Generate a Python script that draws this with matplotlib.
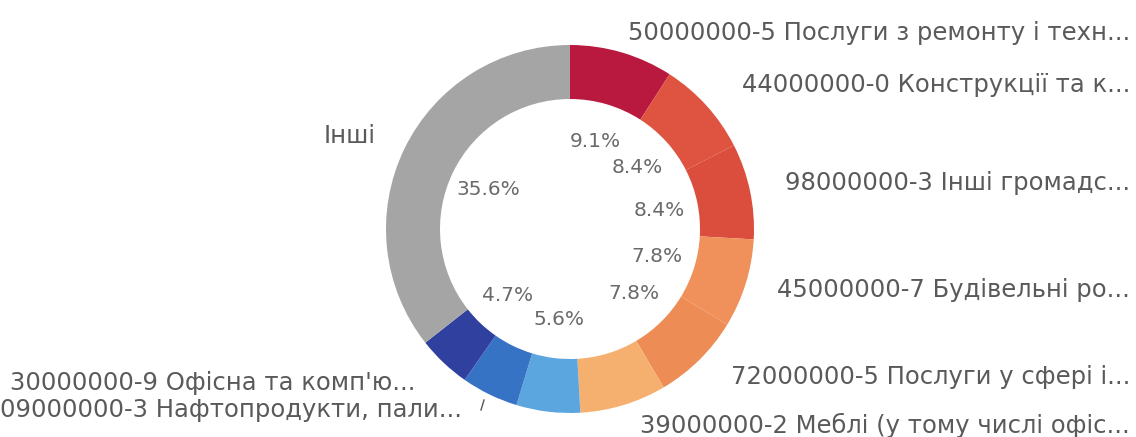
import numpy as np
import matplotlib.pyplot as plt

# CPV share of procurement, clockwise from the top
codes = ["50000000-5 Послуги з ремонту і техн...",
         "44000000-0 Конструкції та к...",
         "98000000-3 Інші громадс...",
         "45000000-7 Будівельні ро...",
         "72000000-5 Послуги у сфері і...",
         "39000000-2 Меблі (у тому числі офіс...",
         "",
         "09000000-3 Нафтопродукти, пали...",
         "30000000-9 Офісна та комп'ю...",
         "Інші"]
shares = [9.1, 8.4, 8.4, 7.8, 7.8, 7.6, 5.6, 5.0, 4.7, 35.6]
shown = [True, True, True, True, True, False, True, False, True, True]
colors = ["#b9183f", "#de5440", "#db4d3c", "#f0905a", "#ee8c55",
          "#f5b06f", "#5ca6df", "#3673c4", "#30409e", "#a5a5a5"]

W, H = 1136, 437
fig = plt.figure(figsize=(W / 100, H / 100), dpi=100)
ax = fig.add_axes([0, 0, 1, 1])

cx, cy = 570, H - 229
r_out, ring = 184, 54
wedges, _ = ax.pie(shares, colors=colors, startangle=90, counterclock=False,
                   radius=r_out, center=(cx, cy), frame=True,
                   wedgeprops=dict(width=ring, edgecolor="none"))
ax.set_xlim(0, W)
ax.set_ylim(0, H)
ax.set_aspect("equal")
ax.axis("off")

font = "DejaVu Sans"
txt_col = "#5a5a5a"

# percentage labels inside the hole
for w, s, ok in zip(wedges, shares, shown):
    if not ok:
        continue
    a = np.deg2rad((w.theta1 + w.theta2) / 2)
    ax.text(cx + 91 * np.cos(a), cy + 91 * np.sin(a), f"{s}%",
            ha="center", va="center", fontsize=14.5, color="#6a6a6a",
            family=font)

# category labels around the ring (pixel rows from the top)
right_rows = [33, 85, 183, 290, 377, 425]
fs = 17.5
for name, yp in zip(codes[:6], right_rows):
    ax.text(1130, H - yp, name, ha="right", va="center", fontsize=fs,
            color=txt_col, family=font)

ax.text(376, H - 136, codes[9], ha="right", va="center", fontsize=fs,
        color=txt_col, family=font)
ax.text(10, H - 383, codes[8], ha="left", va="center", fontsize=fs,
        color=txt_col, family=font)
ax.text(0, H - 410, codes[7], ha="left", va="center", fontsize=fs,
        color=txt_col, family=font)
ax.plot([481, 484], [H - 410, H - 400], color="#555555", lw=1)

fig.savefig("out.png", dpi=100)
